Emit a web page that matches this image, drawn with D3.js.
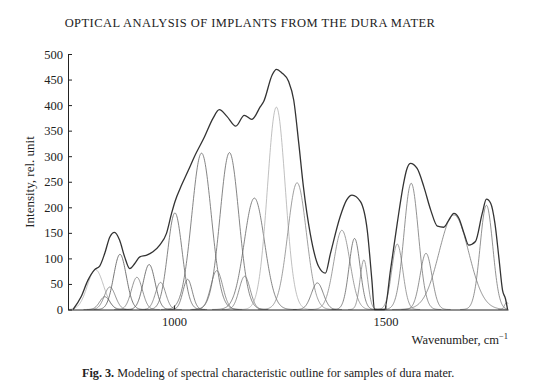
<!DOCTYPE html>
<html><head><meta charset="utf-8">
<script src="https://cdn.jsdelivr.net/npm/d3@7"></script>
<style>
body{margin:0;background:#fff;}
svg text{font-family:"Liberation Serif","Times New Roman",serif;fill:#222;}
</style></head>
<body><svg id="c" width="558" height="386"></svg>
<script>
// Gaussian band components: centre (cm^-1), height (rel. unit), width sigma (cm^-1)
const bandCenters = [814, 836, 848, 872, 912, 941, 968, 1002, 1032, 1065, 1101, 1131, 1167, 1190, 1242, 1291, 1339, 1397, 1427, 1449, 1528, 1561, 1596, 1662, 1739, 1787];
const bandHeights = [78, 25, 44, 108, 63, 88, 53, 189, 59, 306, 76, 307, 65, 218, 396, 248, 52, 155, 139, 97, 128, 247, 110, 185, 204, 14];
const bandWidths  = [19, 12, 13, 15, 13, 14, 12, 17, 11, 23, 14, 22, 13, 24, 21, 22, 14, 19, 13, 9, 13, 17, 14, 35, 15, 5];
const bandShade   = ["#b0b0b0","#666","#777","#555","#777","#555","#777","#666","#666","#666","#777","#666","#777","#666","#b0b0b0","#888","#666","#888","#666","#888","#888","#777","#777","#777","#777","#888"];

// Measured envelope (wavenumber, intensity)
const envX = [761, 780, 796, 812, 824, 836, 848, 859, 871, 883, 895, 907, 919, 934, 950, 966, 982, 994, 1002, 1018, 1034, 1048, 1072, 1092, 1107, 1125, 1146, 1166, 1184, 1204, 1212, 1232, 1242, 1255, 1271, 1283, 1295, 1306, 1322, 1342, 1358, 1370, 1393, 1408, 1421, 1441, 1457, 1468, 1474, 1486, 1498, 1512, 1528, 1543, 1550, 1559, 1575, 1591, 1607, 1623, 1638, 1650, 1662, 1674, 1686, 1697, 1713, 1729, 1739, 1749, 1759, 1769, 1777, 1784, 1789];
const envY = [0, 25, 57, 78, 85, 110, 142, 151, 136, 103, 80, 90, 103, 106, 113, 126, 149, 188, 211, 244, 273, 299, 338, 374, 391, 378, 359, 380, 372, 397, 407, 459, 470, 463, 446, 410, 325, 240, 149, 84, 71, 110, 182, 214, 224, 211, 155, 57, 0, 0, 0, 77, 169, 247, 273, 286, 276, 240, 195, 163, 161, 175, 188, 178, 149, 126, 133, 188, 216, 208, 169, 97, 38, 21, 0];

const yTicks = [0, 50, 100, 150, 200, 250, 300, 350, 400, 450, 500];
const xTicks = [1000, 1500];

const svg = d3.select("#c");
const L = 68, R = 508, T = 54, B = 309.5;
const x = d3.scaleLinear().domain([749, 1790]).range([L, R]);
const y = d3.scaleLinear().domain([0, 500]).range([B, T]);

// title
svg.append("text").attr("x", 250).attr("y", 27).attr("text-anchor", "middle")
  .style("font-size", "12.5px").style("letter-spacing", "0.45px")
  .text("OPTICAL ANALYSIS OF IMPLANTS FROM THE DURA MATER");

// components
const grid = d3.range(749, 1790.5, 1);
const line = d3.line().x(d => x(d[0])).y(d => y(d[1])).curve(d3.curveLinear);
bandCenters.forEach((c, i) => {
  const h = bandHeights[i], s = bandWidths[i];
  const pts = grid.filter(w => Math.abs(w - c) < 4.2 * s)
    .map(w => [w, h * Math.exp(-((w - c) ** 2) / (2 * s * s))]);
  svg.append("path").attr("d", line(pts)).attr("fill", "none")
    .attr("stroke", bandShade[i]).attr("stroke-width", 0.8);
});

// envelope
const envLine = d3.line().x(d => x(d[0])).y(d => y(d[1])).curve(d3.curveMonotoneX);
svg.append("path").attr("d", envLine(envX.map((v, i) => [v, envY[i]])))
  .attr("fill", "none").attr("stroke", "#333").attr("stroke-width", 1.3);

// axes
const ya = svg.append("g").attr("transform", `translate(${L},0)`)
  .call(d3.axisLeft(y).tickValues(yTicks).tickSizeInner(-4).tickSizeOuter(0).tickPadding(5));
const xa = svg.append("g").attr("transform", `translate(0,${B})`)
  .call(d3.axisBottom(x).tickValues(xTicks).tickSizeInner(-4).tickSizeOuter(0).tickPadding(8).tickFormat(d3.format("d")));
[ya, xa].forEach(g => {
  g.selectAll("path,line").attr("stroke", "#222").attr("stroke-width", 1);
  g.selectAll("text").style("font-size", "12.5px").style("font-family", "'Liberation Serif',serif").attr("fill", "#222");
});

// axis labels
svg.append("text").attr("transform", "translate(34,182) rotate(-90)").attr("text-anchor", "middle")
  .style("font-size", "13px").text("Intensity, rel. unit");
const xl = svg.append("text").attr("x", 508).attr("y", 344).attr("text-anchor", "end").style("font-size", "12.5px");
xl.append("tspan").text("Wavenumber, cm");
xl.append("tspan").attr("dy", -5).style("font-size", "8.5px").text("−1");

// caption
const cap = svg.append("text").attr("x", 82).attr("y", 377).style("font-size", "12.2px");
cap.append("tspan").style("font-weight", "bold").text("Fig. 3.");
cap.append("tspan").text(" Modeling of spectral characteristic outline for samples of dura mater.");
</script></body></html>
